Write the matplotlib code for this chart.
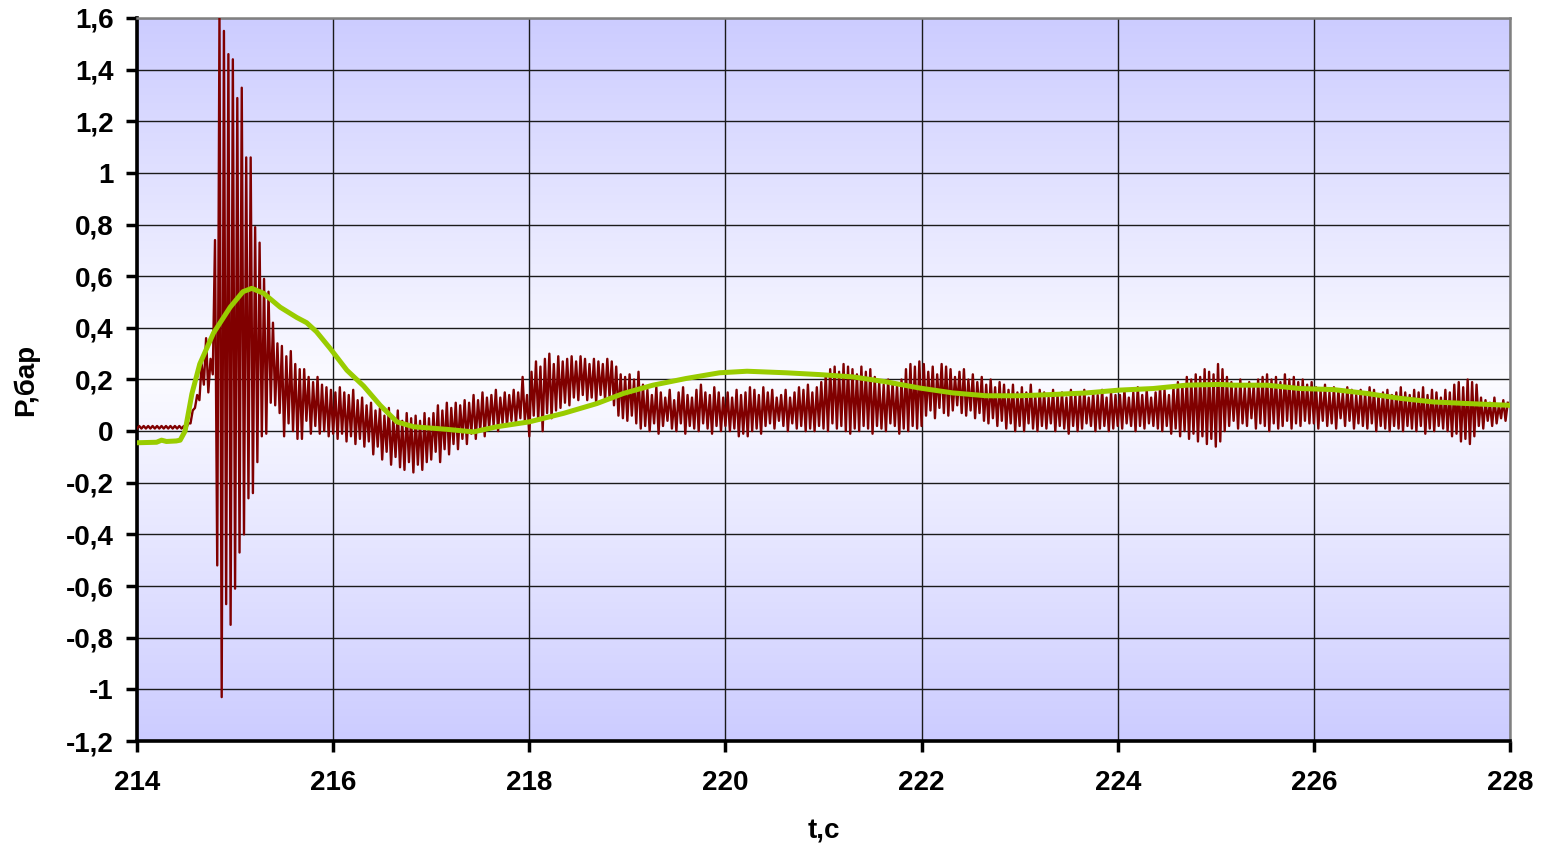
import numpy as np
import matplotlib.pyplot as plt
from matplotlib.colors import LinearSegmentedColormap

plt.rcParams['font.family'] = ['Liberation Sans', 'DejaVu Sans']
plt.rcParams['font.weight'] = 'bold'

# --- pressure record ---
T_START = 214.0
CYCLE = 1 / 22  # s, one swing of the pressure ripple

# ripple troughs per cycle, 0.01 bar, one row per second (214 ... 227)
p_lo = [
    1, 1, 1, 1, 1, 1, 1, 1, 1, 1, 1, 1, 3, 9, 12, 18, 15, 22, -52, -103, -67, -75,
    -61, -47, -40, -26, -24, -12, -2, -1, 11, 10, 7, -2, 3, 0, -3, -3, 4, -1, 2, -1, 0, -2,
    -1, -3, -1, -4, -2, -5, -3, -6, -4, -9, -6, -11, -8, -13, -10, -14, -15, -12, -16, -13, -15, -12,
    -11, -8, -12, -7, -9, -5, -7, -3, -5, -1, -3, 0, -2, 1, 2, 0, 3, 2, 4, 3, 5, 4,
    -2, 6, 4, 0, 7, 5, 8, 9, 11, 10, 13, 12, 14, 12, 13, 11, 14, 12, 13, 10, 6, 5,
    4, 6, 3, 1, 2, 0, 3, -1, 2, 4, 1, 0, 3, -1, 2, 1, 0, 3, 1, -1, 2, 0,
    2, 0, 1, -2, -1, -2, 0, 1, -1, 2, 3, 1, 4, 2, 0, 3, 1, 2, 0, 1, 0, 2,
    1, 0, 3, 1, 2, 0, -1, 1, 0, 2, 1, -1, 2, 1, 0, 3, 2, -1, 1, 0, 2, 1,
    2, 6, 8, 5, 9, 7, 6, 8, 10, 7, 6, 8, 5, 7, 4, 3, 5, 2, 4, 1, 3, 0,
    2, 0, 3, 1, 0, 2, 1, 3, 0, 2, 1, -1, 2, 0, 1, 3, 2, 0, 1, 2, 0, 1,
    2, 1, 3, 2, 0, 2, 1, 3, 2, 1, 0, 2, -1, 1, -2, 0, -3, -1, -4, -2, -5, -3,
    -6, -4, 0, 2, 4, 1, 3, 2, 5, 1, 3, 2, 0, 3, 1, 2, 4, 1, 3, 2, 4, 3,
    3, 1, 4, 2, 3, 1, 5, 2, 4, 1, 3, 2, 1, 3, 0, 2, 1, 0, 2, 1, 0, 2,
    1, 0, 2, -1, 1, 0, 2, 1, 0, -2, -1, -4, -3, -5, -2, 2, 1, 4, 2, 3, 5, 4,
]

# ripple crests per cycle, 0.01 bar
p_hi = [
    2, 2, 2, 2, 2, 2, 2, 2, 2, 2, 2, 3, 8, 14, 26, 36, 28, 74, 162, 155, 146, 144,
    129, 133, 106, 106, 79, 73, 59, 54, 42, 34, 33, 29, 31, 26, 24, 24, 21, 19, 21, 18, 17, 16,
    15, 17, 15, 14, 16, 12, 13, 10, 11, 8, 9, 6, 9, 5, 8, 4, 7, 5, 6, 4, 7, 5,
    7, 10, 8, 11, 9, 11, 10, 12, 11, 14, 12, 15, 13, 14, 16, 13, 15, 14, 16, 15, 21, 14,
    23, 27, 25, 28, 30, 26, 29, 27, 28, 29, 27, 29, 28, 26, 28, 27, 26, 28, 27, 25, 22, 21,
    22, 20, 23, 18, 16, 14, 17, 15, 13, 16, 12, 15, 17, 14, 13, 16, 18, 15, 14, 17, 15, 13,
    15, 13, 16, 14, 15, 17, 16, 14, 17, 15, 16, 13, 14, 16, 13, 15, 17, 16, 18, 15, 17, 19,
    22, 24, 25, 23, 26, 25, 24, 22, 25, 23, 24, 21, 19, 18, 20, 19, 18, 20, 24, 26, 25, 27,
    26, 23, 25, 22, 26, 25, 24, 21, 23, 24, 20, 22, 19, 21, 18, 20, 17, 19, 18, 16, 18, 15,
    17, 15, 18, 14, 16, 15, 13, 16, 14, 15, 13, 16, 14, 15, 16, 13, 15, 14, 16, 13, 15, 14,
    14, 16, 13, 15, 17, 14, 16, 13, 15, 17, 16, 14, 17, 19, 18, 21, 20, 22, 21, 24, 23, 22,
    26, 24, 21, 19, 18, 20, 17, 19, 18, 20, 21, 22, 20, 21, 19, 22, 20, 21, 19, 20, 18, 19,
    17, 16, 18, 15, 17, 16, 15, 17, 16, 14, 16, 15, 17, 16, 14, 15, 16, 14, 15, 17, 15, 14,
    16, 15, 17, 14, 16, 15, 13, 16, 15, 18, 19, 17, 20, 19, 18, 13, 12, 11, 13, 10, 12, 11,
]

# smoothed pressure
t_smooth = [214.0, 214.2, 214.25, 214.3, 214.4, 214.44, 214.49, 214.56, 214.64, 214.78,
            214.95, 215.08, 215.17, 215.29, 215.46, 215.63, 215.73, 215.83, 215.97, 216.14,
            216.31, 216.48, 216.65, 216.82, 217.16, 217.43, 217.67, 218.0, 218.35, 218.69,
            218.96, 219.26, 219.6, 219.94, 220.22, 220.62, 220.96, 221.3, 221.64, 221.98,
            222.32, 222.66, 223.0, 223.34, 223.68, 224.02, 224.36, 224.7, 225.04, 225.18,
            225.52, 225.86, 226.2, 226.54, 226.88, 227.22, 227.56, 228.0]
p_smooth = [-0.045, -0.043, -0.035, -0.04, -0.038, -0.035, 0.0, 0.145, 0.26, 0.38,
            0.48, 0.54, 0.553, 0.534, 0.48, 0.44, 0.42, 0.385, 0.32, 0.236,
            0.175, 0.1, 0.036, 0.017, 0.007, -0.003, 0.017, 0.036, 0.069, 0.107,
            0.146, 0.178, 0.204, 0.226, 0.232, 0.226, 0.219, 0.21, 0.191, 0.167,
            0.148, 0.137, 0.137, 0.142, 0.148, 0.159, 0.165, 0.178, 0.181, 0.178,
            0.178, 0.165, 0.161, 0.146, 0.127, 0.113, 0.107, 0.1]

x_ticks = [214, 216, 218, 220, 222, 224, 226, 228]
y_ticks = [-1.2, -1.0, -0.8, -0.6, -0.4, -0.2, 0.0, 0.2, 0.4, 0.6, 0.8, 1.0, 1.2, 1.4, 1.6]
y_labels = ['-1,2', '-1', '-0,8', '-0,6', '-0,4', '-0,2', '0', '0,2', '0,4', '0,6',
            '0,8', '1', '1,2', '1,4', '1,6']

# interleave troughs and crests into one trace
lo = np.array(p_lo) / 100
hi = np.array(p_hi) / 100
p_raw = np.empty(2 * len(lo))
p_raw[0::2] = lo
p_raw[1::2] = hi
t_raw = T_START + np.arange(len(p_raw)) * CYCLE / 2

fig = plt.figure(figsize=(15.49, 8.46), dpi=100)
ax = fig.add_axes([137 / 1549, 1 - 741 / 846, (1510 - 137) / 1549, (741 - 18) / 846])

# plot area fill: lavender at top and bottom, near white in the middle
bg = LinearSegmentedColormap.from_list('bg', ['#ccccff', '#fbfbff', '#ccccff'])
ax.imshow(np.linspace(0, 1, 256).reshape(-1, 1), cmap=bg, aspect='auto',
          extent=[214, 228, -1.2, 1.6], origin='upper', zorder=0)

ax.plot(t_raw, p_raw, color='#800000', lw=1.7, zorder=3)
ax.plot(t_smooth, p_smooth, color='#99cc00', lw=3.6, zorder=4, solid_capstyle='round')

ax.set_xlim(214, 228)
ax.set_ylim(-1.2, 1.6)
ax.set_xticks(x_ticks)
ax.set_xticklabels([str(v) for v in x_ticks])
ax.set_yticks(y_ticks)
ax.set_yticklabels(y_labels)
ax.grid(True, color='#1a1a1a', lw=1.0, zorder=1)

for side in ('left', 'bottom'):
    ax.spines[side].set_linewidth(2.6)
    ax.spines[side].set_color('black')
for side in ('top', 'right'):
    ax.spines[side].set_linewidth(1.8)
    ax.spines[side].set_color('#808080')

ax.tick_params(axis='both', direction='out', length=8, width=2.5, labelsize=20)
ax.tick_params(axis='x', pad=13)
ax.tick_params(axis='y', pad=9)

ax.set_xlabel('t,c', fontsize=20, fontweight='bold', labelpad=16)
ax.set_ylabel('P,бар', fontsize=20, fontweight='bold', labelpad=19)

fig.savefig('out.png', dpi=100)
